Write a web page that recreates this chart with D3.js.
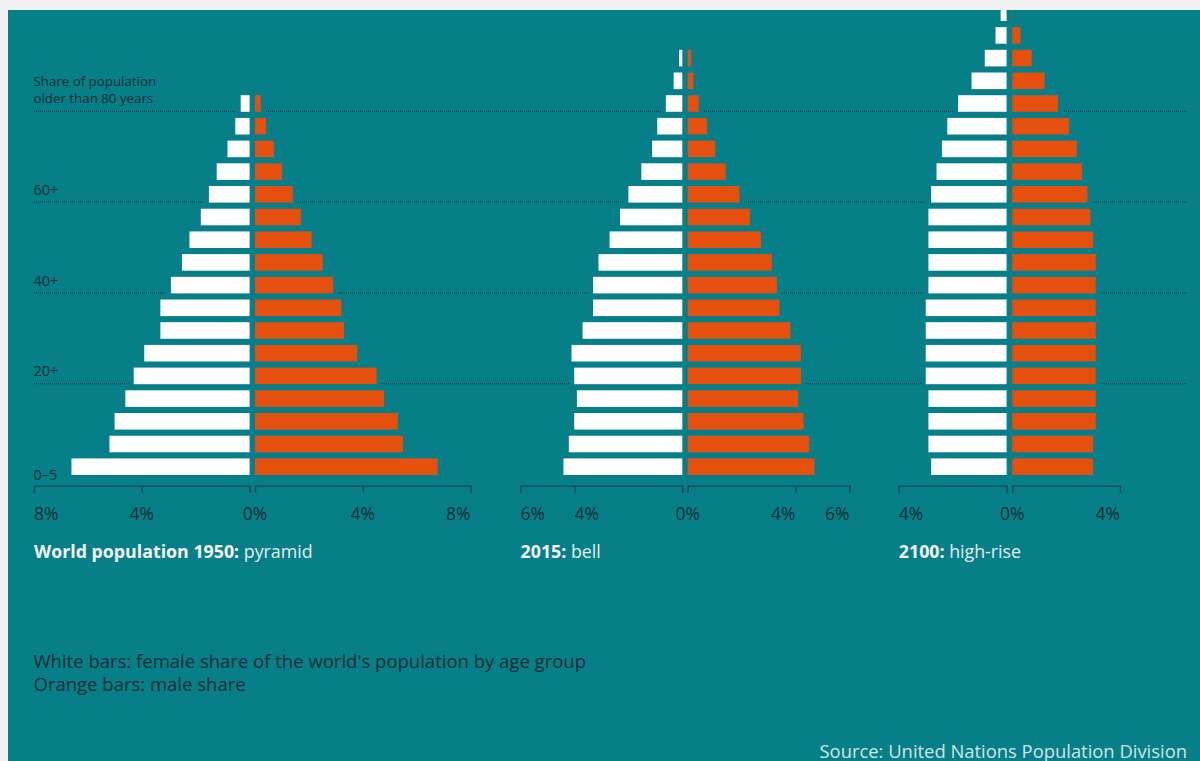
<!DOCTYPE html>
<html>
<head>
<meta charset="utf-8">
<script src="https://cdn.jsdelivr.net/npm/d3@7"></script>
<style>
  html, body { margin: 0; padding: 0; background: #f0f0f0; }
  svg { display: block; font-family: "Open Sans", Roboto, "Liberation Sans", sans-serif; }
</style>
</head>
<body>
<script>
// ---------- DATA ----------
const ageGroups = ["0–4","5–9","10–14","15–19","20–24","25–29","30–34","35–39","40–44","45–49",
  "50–54","55–59","60–64","65–69","70–74","75–79","80–84","85–89","90–94","95–99","100+"];

const female1950 = [6.61,5.20,5.01,4.61,4.30,3.91,3.31,3.31,2.92,2.51,2.23,1.81,1.51,1.22,0.82,0.53,0.33];
const male1950   = [6.78,5.49,5.30,4.79,4.51,3.79,3.30,3.20,2.90,2.51,2.10,1.70,1.40,1.00,0.70,0.41,0.21];

const female2015 = [4.41,4.21,4.01,3.91,4.01,4.11,3.70,3.31,3.31,3.11,2.70,2.31,2.00,1.52,1.12,0.93,0.61,0.32,0.12];
const male2015   = [4.71,4.51,4.30,4.10,4.20,4.20,3.81,3.40,3.31,3.12,2.72,2.31,1.92,1.41,1.02,0.72,0.41,0.21,0.13];

const female2100 = [2.80,2.90,2.90,2.90,3.00,3.00,3.00,3.00,2.90,2.90,2.90,2.90,2.80,2.60,2.40,2.20,1.80,1.30,0.81,0.41,0.22];
const male2100   = [3.00,3.00,3.10,3.10,3.10,3.10,3.10,3.10,3.10,3.10,3.00,2.90,2.79,2.59,2.40,2.11,1.70,1.20,0.72,0.31,0.01];

const axisMax1950 = 8, axisMax2015 = 6, axisMax2100 = 4;
const ticks1950 = [0,4,8], ticks2015 = [0,4,6], ticks2100 = [0,4];

const titlesBold = ["World population 1950:", "2015:", "2100:"];
const titlesRegular = [" pyramid", " bell", " high-rise"];

const guideRows = [4, 8, 12, 16];          // index of age group whose bar sits on the guide line
const guideLabels = ["20+", "40+", "60+"];
const topGuideLabel = ["Share of population", "older than 80 years"];
const bottomLabel = "0–5";

const legendLines = ["White bars: female share of the world's population by age group", "Orange bars: male share"];
const sourceText = "Source: United Nations Population Division";

// ---------- LAYOUT ----------
const W = 1200, H = 761;
const TEAL = "#077f89", ORANGE = "#e5500f", DARK = "#0a2e33";
const pxPerPct = 26.95;

const panels = [
  { female: female1950, male: male1950, max: axisMax1950, ticks: ticks1950, zeroL: 249.6, zeroR: 255.0, inner: "middle" },
  { female: female2015, male: male2015, max: axisMax2015, ticks: ticks2015, zeroL: 682.3, zeroR: 687.7, inner: "outer" },
  { female: female2100, male: male2100, max: axisMax2100, ticks: ticks2100, zeroL: 1006.6, zeroR: 1012.2, inner: "outer" }
];

const y = d3.scaleBand().domain(ageGroups).range([478.05, 1.35]).paddingInner(0.27).paddingOuter(0.135);
const axisY = 485.7;

const svg = d3.select("body").append("svg").attr("width", W).attr("height", H);
svg.append("rect").attr("width", W).attr("height", H).attr("fill", "#f0f0f0");
svg.append("defs").append("clipPath").attr("id", "clip")
  .append("rect").attr("x", 8).attr("y", 10).attr("width", W - 8).attr("height", H - 10);
svg.append("rect").attr("x", 8).attr("y", 10).attr("width", W - 8).attr("height", H - 10).attr("fill", TEAL);

const g = svg.append("g").attr("clip-path", "url(#clip)");

// guide lines
const lineX0 = 34, lineX1 = 1187;
guideRows.forEach(i => {
  const yy = y(ageGroups[i]) + y.bandwidth() - 0.5;
  g.append("line").attr("x1", lineX0).attr("x2", lineX1).attr("y1", yy).attr("y2", yy)
    .attr("stroke", "#0d4148").attr("stroke-width", 1.2).attr("stroke-dasharray", "1,1");
});

// guide labels
guideRows.slice(0, 3).forEach((i, k) => {
  const yy = y(ageGroups[i]) + y.bandwidth() - 0.5;
  g.append("text").attr("x", 33.5).attr("y", yy - 7.3).attr("font-size", 14.5).attr("fill", DARK)
    .text(guideLabels[k]);
});
{
  const yy = y(ageGroups[16]) + y.bandwidth() - 0.5;
  topGuideLabel.forEach((t, k) => {
    g.append("text").attr("x", 33.5).attr("y", yy - 24.8 + k * 16.5).attr("font-size", 13.3).attr("fill", DARK).text(t);
  });
  g.append("text").attr("x", 33.5).attr("y", y(ageGroups[0]) + y.bandwidth() + 5)
    .attr("font-size", 14.5).attr("fill", DARK).text(bottomLabel);
}

// panels
panels.forEach((p, pi) => {
  const xL = d3.scaleLinear().domain([0, p.max]).range([p.zeroL, p.zeroL - p.max * pxPerPct]);
  const xR = d3.scaleLinear().domain([0, p.max]).range([p.zeroR, p.zeroR + p.max * pxPerPct]);
  const rows = p.female.map((f, i) => ({ age: ageGroups[i], f, m: p.male[i] }));

  const pg = g.append("g");
  // halos to break guide lines
  pg.selectAll("rect.halo").data(rows).join("rect").attr("class", "halo")
    .attr("x", d => xL(d.f) - 5).attr("y", d => y(d.age) - 1)
    .attr("width", d => xR(d.m) + 5 - (xL(d.f) - 5)).attr("height", y.bandwidth() + 2)
    .attr("fill", TEAL);
  pg.selectAll("rect.fem").data(rows).join("rect").attr("class", "fem")
    .attr("x", d => xL(d.f)).attr("y", d => y(d.age))
    .attr("width", d => xL(0) - xL(d.f)).attr("height", y.bandwidth()).attr("fill", "#ffffff");
  pg.selectAll("rect.mal").data(rows).join("rect").attr("class", "mal")
    .attr("x", d => xR(0)).attr("y", d => y(d.age))
    .attr("width", d => xR(d.m) - xR(0)).attr("height", y.bandwidth()).attr("fill", ORANGE);

  // axes
  [xL, xR].forEach(sc => {
    const ax = pg.append("g").attr("transform", `translate(0,${axisY})`)
      .call(d3.axisBottom(sc).tickValues(p.ticks).tickSize(7).tickSizeOuter(7).tickFormat(""));
    ax.select(".domain").attr("stroke", "#164b52").attr("stroke-width", 1.2).attr("fill", "none");
    ax.selectAll(".tick line").attr("stroke", "#164b52").attr("stroke-width", 1.2);
  });

  // tick labels
  const lab = (x, anchor, v) => pg.append("text").attr("x", x).attr("y", 519.5)
    .attr("text-anchor", anchor).attr("font-size", 17.5).attr("fill", DARK).text(v + "%");
  p.ticks.forEach(v => {
    if (v === 0) { lab(xR(0), "middle", v); return; }
    const outer = v === p.max;
    lab(xL(v), outer ? "start" : (p.inner === "middle" ? "middle" : "start"), v);
    lab(xR(v), outer ? "end" : (p.inner === "middle" ? "middle" : "end"), v);
  });

  // titles
  const t = pg.append("text").attr("x", xL(p.max)).attr("y", 558).attr("font-size", 17.8).attr("fill", "#f4f8f8");
  t.append("tspan").attr("font-weight", 700).text(titlesBold[pi]);
  t.append("tspan").attr("font-weight", 400).attr("fill", "#e6f0f0").text(titlesRegular[pi]);
});

// legend
legendLines.forEach((t, k) => {
  g.append("text").attr("x", 33.5).attr("y", 667.5 + k * 23).attr("font-size", 18.5).attr("fill", DARK).text(t);
});
g.append("text").attr("x", 1187).attr("y", 757.5).attr("text-anchor", "end")
  .attr("font-size", 18.4).attr("fill", "#cfe5e7").text(sourceText);
</script>
</body>
</html>
